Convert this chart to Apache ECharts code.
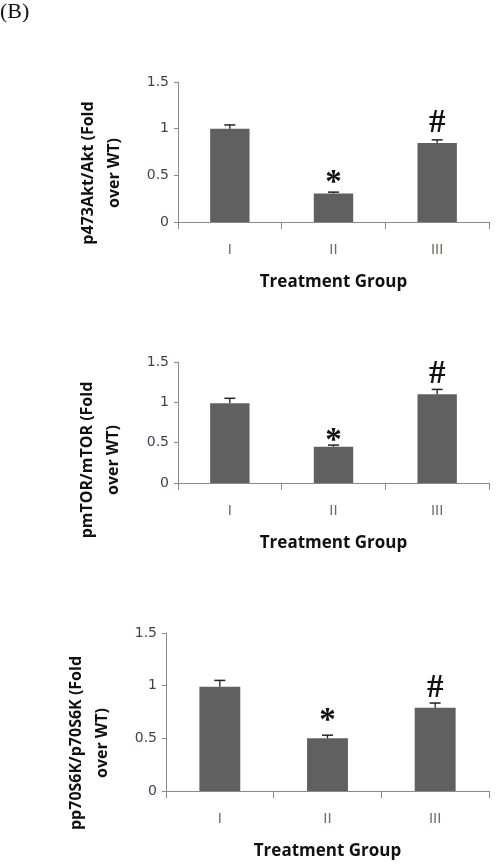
<!DOCTYPE html>
<html>
<head>
<meta charset="utf-8">
<script src="https://cdn.jsdelivr.net/npm/echarts@6/dist/echarts.min.js"></script>
<style>html,body{margin:0;padding:0;background:#fff}#c{width:500px;height:865px}</style>
</head>
<body>
<div id="c"></div>
<script>
var categories = ['I', 'II', 'III'];
var yTicks = [0, 0.5, 1, 1.5];
// Panel 1: p473Akt/Akt
var aktValues = [1.00, 0.305, 0.846];
var aktErrors = [0.04, 0.015, 0.034];
// Panel 2: pmTOR/mTOR
var mtorValues = [0.99, 0.45, 1.10];
var mtorErrors = [0.06, 0.02, 0.06];
// Panel 3: pp70S6K/p70S6K
var s6kValues = [0.99, 0.50, 0.79];
var s6kErrors = [0.06, 0.03, 0.045];
var marks = ['', '*', '#'];
var aktMarkPos = [null, 0.50, 1.06];
var mtorMarkPos = [null, 0.62, 1.34];
var s6kMarkPos = [null, 0.74, 0.976];
var yTitles = ['p473Akt/Akt (Fold\nover WT)', 'pmTOR/mTOR (Fold\nover WT)', 'pp70S6K/p70S6K (Fold\nover WT)'];
var xTitle = 'Treatment Group';

var panels = [
  {vals: aktValues, errs: aktErrors, pos: aktMarkPos, grid: {left: 178, top: 82, width: 311, height: 140}, title: [101, 173]},
  {vals: mtorValues, errs: mtorErrors, pos: mtorMarkPos, grid: {left: 178, top: 362, width: 311, height: 121}, title: [100, 460]},
  {vals: s6kValues, errs: s6kErrors, pos: s6kMarkPos, grid: {left: 166, top: 633, width: 323, height: 158}, title: [89, 743]}
];

var chart = echarts.init(document.getElementById('c'), null, {renderer: 'canvas'});
var grids = [], xAxes = [], yAxes = [], series = [], graphics = [];
panels.forEach(function (p, i) {
  grids.push(p.grid);
  xAxes.push({
    type: 'category', gridIndex: i, data: categories,
    axisLine: {lineStyle: {color: '#8a8a8a', width: 1}},
    axisTick: {show: true, length: 7, interval: 0, lineStyle: {color: '#8a8a8a'}},
    axisLabel: {margin: 21, color: '#7a6868', fontSize: 14, fontFamily: 'DejaVu Sans'},
    name: xTitle, nameLocation: 'middle', nameGap: 52,
    nameTextStyle: {color: '#111', fontSize: 17, fontWeight: 'bold', fontFamily: 'Open Sans'}
  });
  yAxes.push({
    type: 'value', gridIndex: i, min: 0, max: 1.5, interval: 0.5,
    axisLine: {show: true, lineStyle: {color: '#8a8a8a', width: 1}},
    axisTick: {show: true, length: 4, lineStyle: {color: '#8a8a8a'}},
    splitLine: {show: false},
    axisLabel: {margin: 9, color: '#4a3a5a', fontSize: 14, fontFamily: 'DejaVu Sans'}
  });
  series.push({
    type: 'bar', xAxisIndex: i, yAxisIndex: i, data: p.vals, barWidth: '38%',
    itemStyle: {color: '#606060'}, silent: true
  });
  var data = p.vals.map(function (v, k) { return [k, v, p.errs[k], p.pos[k] == null ? 0 : p.pos[k], k]; });
  series.push({
    type: 'custom', xAxisIndex: i, yAxisIndex: i, data: data, z: 5, silent: true,
    renderItem: function (params, api) {
      var k = api.value(0);
      var v = api.value(1), e = api.value(2), mp = api.value(3);
      var base = api.coord([k, v]);
      var top = api.coord([k, v + e]);
      var half = 5.5;
      var children = [
        {type: 'line', shape: {x1: base[0], y1: base[1], x2: top[0], y2: top[1]}, style: {stroke: '#222', lineWidth: 1.3}},
        {type: 'line', shape: {x1: top[0] - half, y1: top[1], x2: top[0] + half, y2: top[1]}, style: {stroke: '#222', lineWidth: 1.5}}
      ];
      var m = marks[api.value(4)];
      if (m) {
        var mpos = api.coord([k, mp]);
        children.push({type: 'text', style: {text: m, x: mpos[0], y: mpos[1] + (m === '*' ? 8 : 0), align: 'center', verticalAlign: 'middle',
          font: 'bold 33px "Liberation Serif"', fill: '#111'}});
      }
      return {type: 'group', children: children};
    }
  });
  graphics.push({
    type: 'text', x: p.title[0], y: p.title[1], rotation: Math.PI / 2,
    style: {text: yTitles[i], align: 'center', verticalAlign: 'middle', font: 'bold 16px "Open Sans"', lineHeight: 26, fill: '#111'}
  });
});
graphics.push({type: 'text', x: 0, y: 1, style: {text: '(B)', font: '22px "Liberation Serif"', fill: '#111'}});

chart.setOption({
  animation: false,
  grid: grids, xAxis: xAxes, yAxis: yAxes, series: series, graphic: graphics
});
</script>
</body>
</html>
